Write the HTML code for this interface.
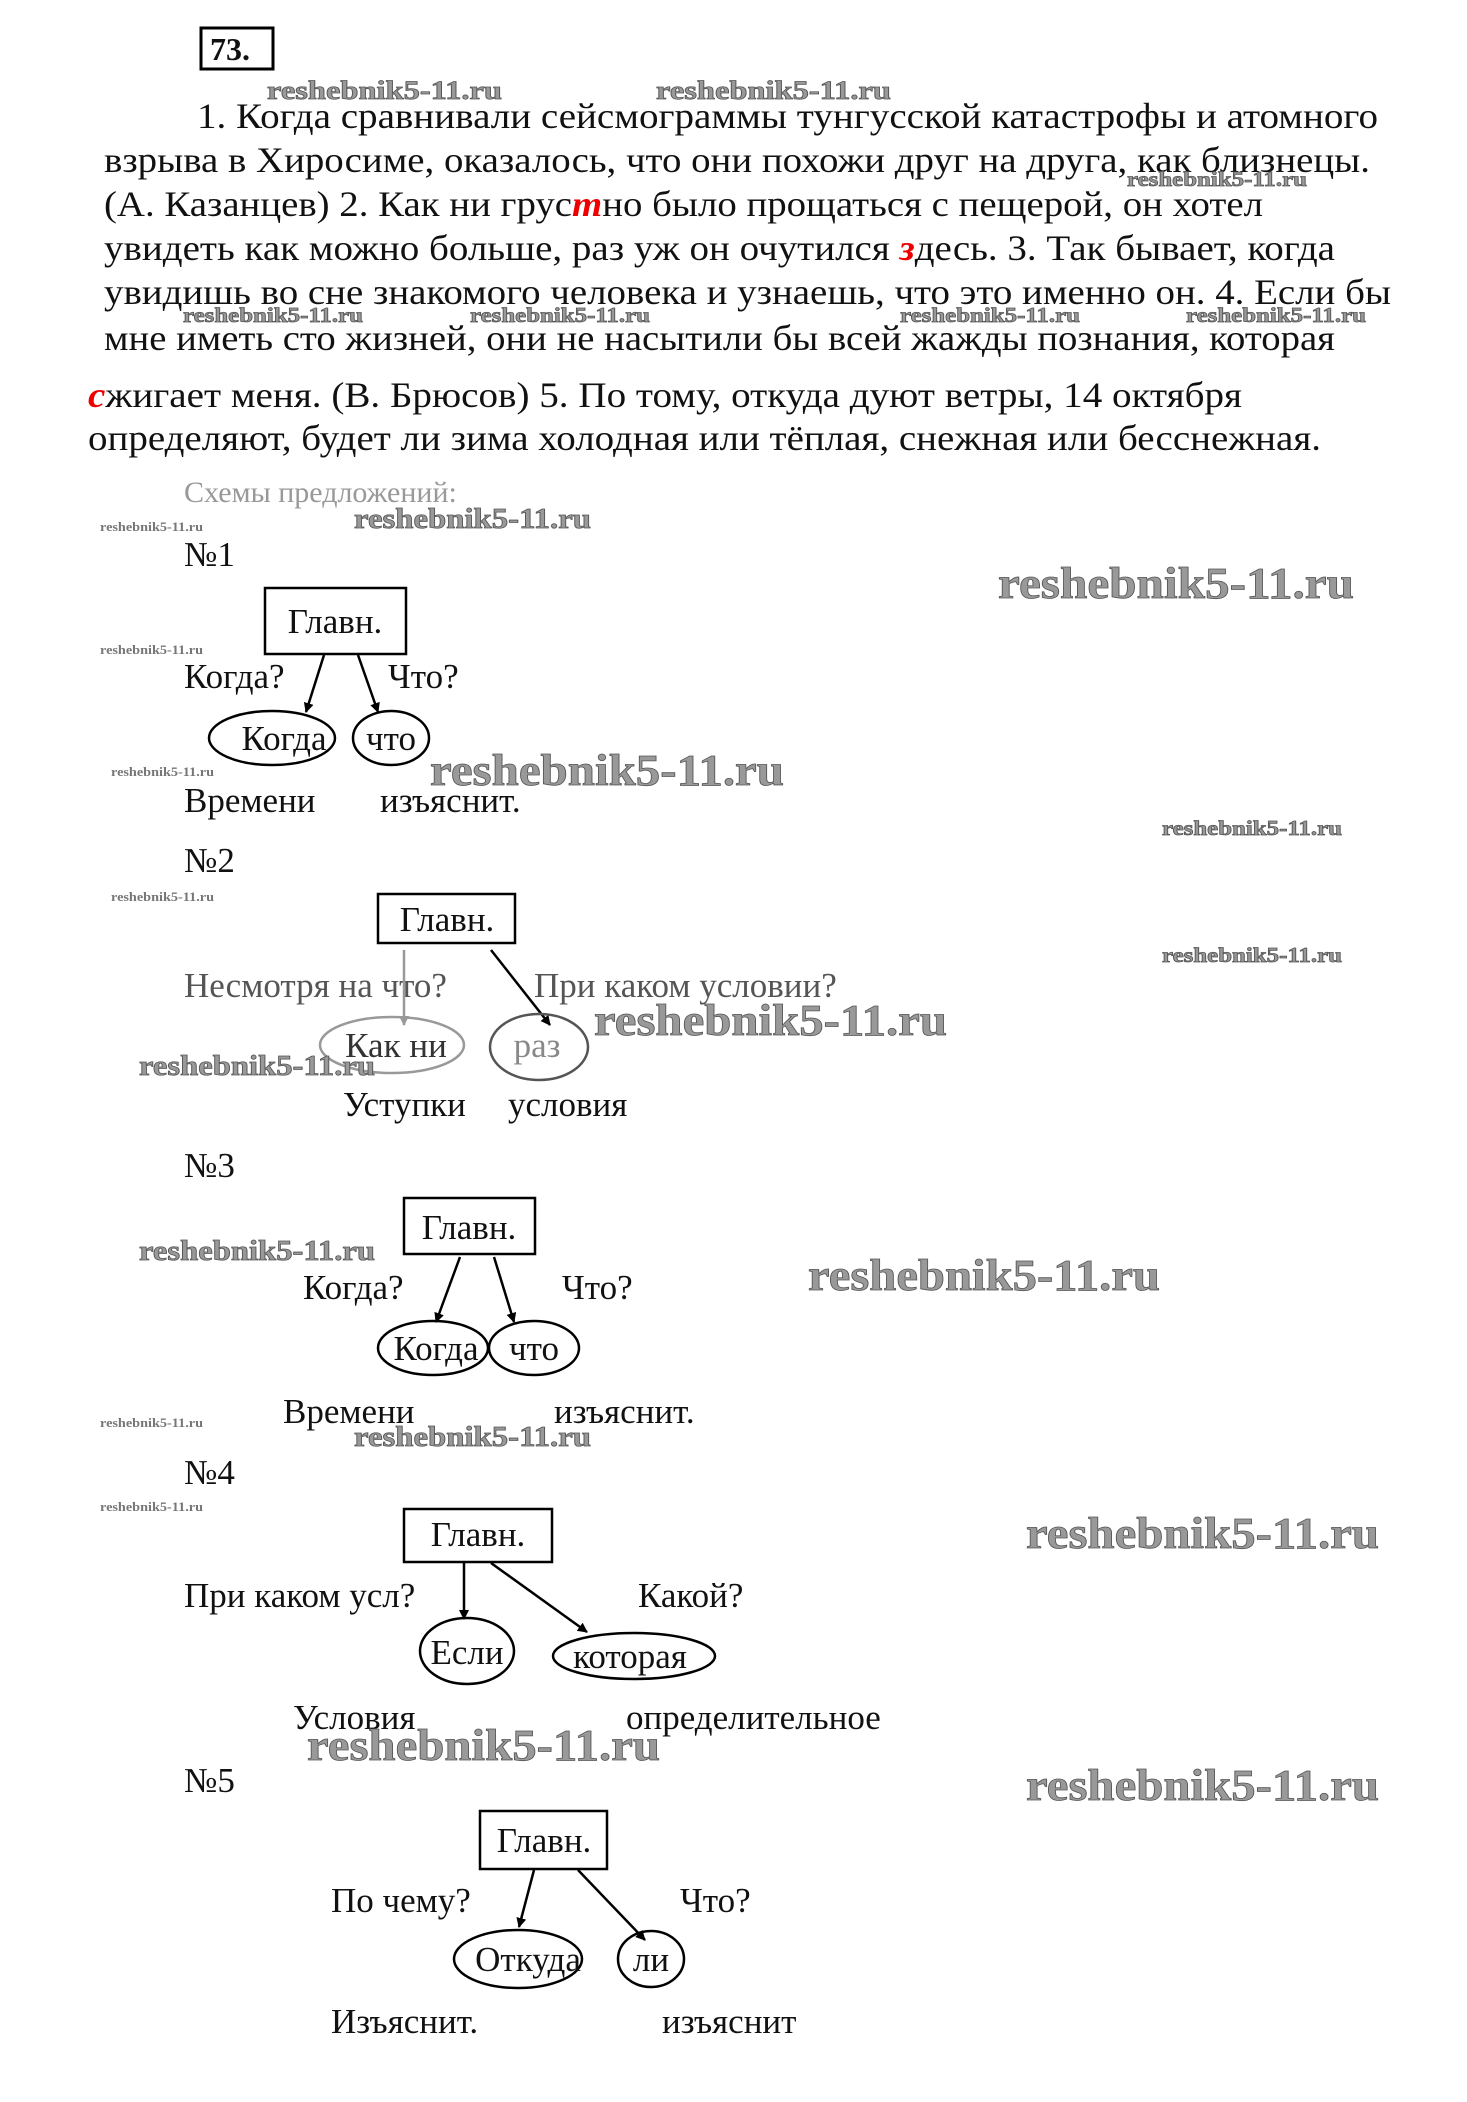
<!DOCTYPE html>
<html><head><meta charset="utf-8"><style>
html,body{margin:0;padding:0;background:#fff;}
svg{display:block;}
text{font-family:"Liberation Serif","DejaVu Serif",serif;fill:#111;}
.t{font-size:36px;}
.d{font-size:35px;}
.w{font-weight:bold;fill:#999;stroke:#555;stroke-width:0.8;}
.ws{font-weight:bold;fill:#777;font-size:13px;}
</style></head><body>
<svg width="1467" height="2102" viewBox="0 0 1467 2102" xmlns="http://www.w3.org/2000/svg">
<defs><marker id="a" markerWidth="10" markerHeight="10" refX="9" refY="5" orient="auto" markerUnits="userSpaceOnUse"><path d="M0,0 L10,5 L0,10 z" fill="#000"/></marker>
<marker id="g" markerWidth="10" markerHeight="10" refX="9" refY="5" orient="auto" markerUnits="userSpaceOnUse"><path d="M0,0 L10,5 L0,10 z" fill="#999"/></marker></defs>
<rect x="201" y="28" width="72" height="41" fill="none" stroke="#000" stroke-width="3"/>
<text x="210" y="60" style="font-size:32px;font-weight:bold">73.</text>
<text class="w" x="267" y="99" style="font-size:26px" textLength="235" lengthAdjust="spacingAndGlyphs">reshebnik5-11.ru</text>
<text class="w" x="656" y="99" style="font-size:26px" textLength="235" lengthAdjust="spacingAndGlyphs">reshebnik5-11.ru</text>

<text class="t" x="197" y="128" textLength="1181" lengthAdjust="spacingAndGlyphs">1. Когда сравнивали сейсмограммы тунгусской катастрофы и атомного</text>
<text class="t" x="104" y="172" textLength="1266" lengthAdjust="spacingAndGlyphs">взрыва в Хиросиме, оказалось, что они похожи друг на друга, как близнецы.</text>
<text class="w" x="1127" y="186" style="font-size:21px" textLength="180" lengthAdjust="spacingAndGlyphs">reshebnik5-11.ru</text>
<text class="t" x="104" y="216" textLength="1159" lengthAdjust="spacingAndGlyphs">(А. Казанцев) 2. Как ни грус<tspan style="fill:#e00;font-weight:bold;font-style:italic">т</tspan>но было прощаться с пещерой, он хотел</text>
<text class="t" x="104" y="260" textLength="1231" lengthAdjust="spacingAndGlyphs">увидеть как можно больше, раз уж он очутился <tspan style="fill:#e00;font-weight:bold;font-style:italic">з</tspan>десь. 3. Так бывает, когда</text>
<text class="t" x="104" y="304" textLength="1287" lengthAdjust="spacingAndGlyphs">увидишь во сне знакомого человека и узнаешь, что это именно он. 4. Если бы</text>
<text class="w" x="183" y="322" style="font-size:21px" textLength="180" lengthAdjust="spacingAndGlyphs">reshebnik5-11.ru</text>
<text class="w" x="470" y="322" style="font-size:21px" textLength="180" lengthAdjust="spacingAndGlyphs">reshebnik5-11.ru</text>
<text class="w" x="900" y="322" style="font-size:21px" textLength="180" lengthAdjust="spacingAndGlyphs">reshebnik5-11.ru</text>
<text class="w" x="1186" y="322" style="font-size:21px" textLength="180" lengthAdjust="spacingAndGlyphs">reshebnik5-11.ru</text>
<text class="t" x="104" y="350" textLength="1231" lengthAdjust="spacingAndGlyphs">мне иметь сто жизней, они не насытили бы всей жажды познания, которая</text>
<text class="t" x="88" y="407" textLength="1154" lengthAdjust="spacingAndGlyphs"><tspan style="fill:#e00;font-weight:bold;font-style:italic">с</tspan>жигает меня. (В. Брюсов) 5. По тому, откуда дуют ветры, 14 октября</text>
<text class="t" x="88" y="450" textLength="1233" lengthAdjust="spacingAndGlyphs">определяют, будет ли зима холодная или тёплая, снежная или бесснежная.</text>

<text x="184" y="502" style="font-size:30px;fill:#999">Схемы предложений:</text>
<text class="w" x="354" y="528" style="font-size:28px" textLength="237" lengthAdjust="spacingAndGlyphs">reshebnik5-11.ru</text>
<text class="ws" x="100" y="531" textLength="103" lengthAdjust="spacingAndGlyphs">reshebnik5-11.ru</text>

<!-- 1 -->
<text class="d" x="184" y="566">№1</text>
<text class="w" x="998" y="598" style="font-size:44px" textLength="356" lengthAdjust="spacingAndGlyphs">reshebnik5-11.ru</text>
<rect x="265" y="588" width="141" height="66" fill="none" stroke="#000" stroke-width="2.5"/>
<text class="d" x="335" y="633" text-anchor="middle">Главн.</text>
<text class="ws" x="100" y="654" textLength="103" lengthAdjust="spacingAndGlyphs">reshebnik5-11.ru</text>
<text class="d" x="184" y="688">Когда?</text>
<text class="d" x="388" y="688">Что?</text>
<line x1="324" y1="655" x2="306" y2="712" stroke="#000" stroke-width="2.5" marker-end="url(#a)"/>
<line x1="358" y1="655" x2="378" y2="712" stroke="#000" stroke-width="2.5" marker-end="url(#a)"/>
<ellipse cx="272" cy="738" rx="63" ry="27" fill="none" stroke="#000" stroke-width="2.5"/>
<ellipse cx="391" cy="738" rx="38" ry="27" fill="none" stroke="#000" stroke-width="2.5"/>
<text class="d" x="284" y="750" text-anchor="middle">Когда</text>
<text class="d" x="391" y="750" text-anchor="middle">что</text>
<text class="w" x="430" y="785" style="font-size:44px" textLength="354" lengthAdjust="spacingAndGlyphs">reshebnik5-11.ru</text>
<text class="ws" x="111" y="776" textLength="103" lengthAdjust="spacingAndGlyphs">reshebnik5-11.ru</text>
<text class="d" x="184" y="812">Времени</text>
<text class="d" x="380" y="812">изъяснит.</text>
<text class="w" x="1162" y="835" style="font-size:21px" textLength="180" lengthAdjust="spacingAndGlyphs">reshebnik5-11.ru</text>

<!-- 2 -->
<text class="d" x="184" y="872">№2</text>
<text class="ws" x="111" y="901" textLength="103" lengthAdjust="spacingAndGlyphs">reshebnik5-11.ru</text>
<rect x="378" y="894" width="137" height="49" fill="none" stroke="#000" stroke-width="2.5"/>
<text class="d" x="447" y="931" text-anchor="middle">Главн.</text>
<text class="w" x="1162" y="962" style="font-size:21px" textLength="180" lengthAdjust="spacingAndGlyphs">reshebnik5-11.ru</text>
<text class="d" x="184" y="997" style="fill:#555">Несмотря на что?</text>
<text class="d" x="534" y="997" style="fill:#555">При каком условии?</text>
<line x1="404" y1="950" x2="404" y2="1025" stroke="#999" stroke-width="2.5" marker-end="url(#g)"/>
<line x1="491" y1="950" x2="550" y2="1025" stroke="#000" stroke-width="2.5" marker-end="url(#a)"/>
<ellipse cx="392" cy="1045" rx="72" ry="28" fill="none" stroke="#999" stroke-width="2.5"/>
<ellipse cx="539" cy="1047" rx="49" ry="33" fill="none" stroke="#555" stroke-width="2.5"/>
<text class="d" x="396" y="1057" text-anchor="middle" style="fill:#333">Как ни</text>
<text class="d" x="537" y="1057" text-anchor="middle" style="fill:#888">раз</text>
<text class="w" x="594" y="1035" style="font-size:44px" textLength="353" lengthAdjust="spacingAndGlyphs">reshebnik5-11.ru</text>
<text class="w" x="139" y="1075" style="font-size:28px" textLength="236" lengthAdjust="spacingAndGlyphs">reshebnik5-11.ru</text>
<text class="d" x="343" y="1116">Уступки</text>
<text class="d" x="508" y="1116">условия</text>

<!-- 3 -->
<text class="d" x="184" y="1177">№3</text>
<rect x="404" y="1198" width="131" height="56" fill="none" stroke="#000" stroke-width="2.5"/>
<text class="d" x="469" y="1239" text-anchor="middle">Главн.</text>
<text class="w" x="139" y="1260" style="font-size:28px" textLength="236" lengthAdjust="spacingAndGlyphs">reshebnik5-11.ru</text>
<text class="d" x="303" y="1299">Когда?</text>
<text class="d" x="562" y="1299">Что?</text>
<text class="w" x="808" y="1290" style="font-size:44px" textLength="352" lengthAdjust="spacingAndGlyphs">reshebnik5-11.ru</text>
<line x1="460" y1="1257" x2="436" y2="1322" stroke="#000" stroke-width="2.5" marker-end="url(#a)"/>
<line x1="494" y1="1257" x2="514" y2="1322" stroke="#000" stroke-width="2.5" marker-end="url(#a)"/>
<ellipse cx="433" cy="1348" rx="55" ry="27" fill="none" stroke="#000" stroke-width="2.5"/>
<ellipse cx="534" cy="1348" rx="45" ry="27" fill="none" stroke="#000" stroke-width="2.5"/>
<text class="d" x="436" y="1360" text-anchor="middle">Когда</text>
<text class="d" x="534" y="1360" text-anchor="middle">что</text>
<text class="d" x="283" y="1423">Времени</text>
<text class="d" x="554" y="1423">изъяснит.</text>
<text class="ws" x="100" y="1427" textLength="103" lengthAdjust="spacingAndGlyphs">reshebnik5-11.ru</text>
<text class="w" x="354" y="1446" style="font-size:28px" textLength="237" lengthAdjust="spacingAndGlyphs">reshebnik5-11.ru</text>

<!-- 4 -->
<text class="d" x="184" y="1484">№4</text>
<text class="ws" x="100" y="1511" textLength="103" lengthAdjust="spacingAndGlyphs">reshebnik5-11.ru</text>
<rect x="404" y="1509" width="148" height="53" fill="none" stroke="#000" stroke-width="2.5"/>
<text class="d" x="478" y="1546" text-anchor="middle">Главн.</text>
<text class="w" x="1026" y="1548" style="font-size:44px" textLength="353" lengthAdjust="spacingAndGlyphs">reshebnik5-11.ru</text>
<text class="d" x="184" y="1607">При каком усл?</text>
<text class="d" x="638" y="1607">Какой?</text>
<line x1="464" y1="1563" x2="464" y2="1619" stroke="#000" stroke-width="2.5" marker-end="url(#a)"/>
<line x1="491" y1="1563" x2="587" y2="1632" stroke="#000" stroke-width="2.5" marker-end="url(#a)"/>
<ellipse cx="467" cy="1651" rx="47" ry="33" fill="none" stroke="#000" stroke-width="2.5"/>
<ellipse cx="634" cy="1656" rx="81" ry="23" fill="none" stroke="#000" stroke-width="2.5"/>
<text class="d" x="467" y="1664" text-anchor="middle">Если</text>
<text class="d" x="630" y="1668" text-anchor="middle">которая</text>
<text class="d" x="293" y="1729">Условия</text>
<text class="d" x="626" y="1729">определительное</text>
<text class="w" x="307" y="1760" style="font-size:44px" textLength="353" lengthAdjust="spacingAndGlyphs">reshebnik5-11.ru</text>

<!-- 5 -->
<text class="d" x="184" y="1792">№5</text>
<text class="w" x="1026" y="1800" style="font-size:44px" textLength="353" lengthAdjust="spacingAndGlyphs">reshebnik5-11.ru</text>
<rect x="480" y="1811" width="127" height="58" fill="none" stroke="#000" stroke-width="2.5"/>
<text class="d" x="544" y="1852" text-anchor="middle">Главн.</text>
<text class="d" x="331" y="1912">По чему?</text>
<text class="d" x="680" y="1912">Что?</text>
<line x1="534" y1="1870" x2="519" y2="1927" stroke="#000" stroke-width="2.5" marker-end="url(#a)"/>
<line x1="578" y1="1870" x2="645" y2="1940" stroke="#000" stroke-width="2.5" marker-end="url(#a)"/>
<ellipse cx="518" cy="1959" rx="64" ry="29" fill="none" stroke="#000" stroke-width="2.5"/>
<ellipse cx="651" cy="1959" rx="33" ry="28" fill="none" stroke="#000" stroke-width="2.5"/>
<text class="d" x="528" y="1971" text-anchor="middle">Откуда</text>
<text class="d" x="651" y="1971" text-anchor="middle">ли</text>
<text class="d" x="331" y="2033">Изъяснит.</text>
<text class="d" x="662" y="2033">изъяснит</text>
</svg>
</body></html>
